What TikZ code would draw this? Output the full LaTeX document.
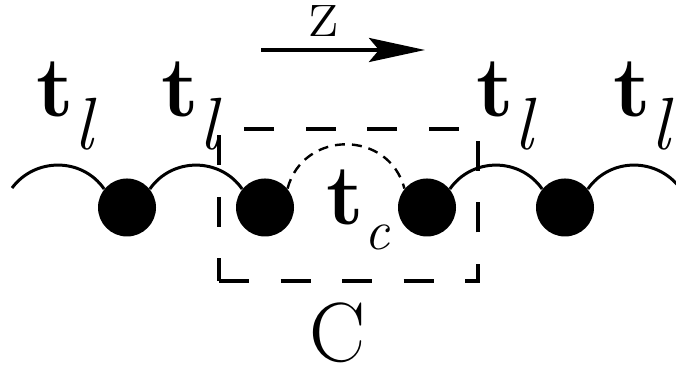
\documentclass[tikz,border=0pt]{standalone}
\usepackage{fontspec}
\usetikzlibrary{arrows.meta}
\newcommand\tlab{{\fontsize{43}{43}\selectfont\bfseries t}\raisebox{-16.5pt}{\fontsize{37}{37}\selectfont\itshape l}}
\newcommand\tclab{{\fontsize{43}{43}\selectfont\bfseries t}\raisebox{-12.5pt}{\fontsize{28}{28}\selectfont\itshape c}}

\begin{document}
\begin{tikzpicture}[x=0.5pt,y=0.5pt,bead/.style={circle,fill=black,inner sep=0pt,minimum size=29pt},chain/.style={line width=1.5pt},dchain/.style={line width=1.2pt,dash pattern=on 5pt off 3.5pt},cellbox/.style={line width=1.6pt,dash pattern=on 15pt off 15.75pt,line join=miter},lab/.style={anchor=base west,inner sep=0pt},zarrow/.style={-{Stealth[length=28pt,width=12pt,inset=5pt]},line width=2pt}]
\useasboundingbox (0,0) rectangle (676,367);

\draw[cellbox] (219,86) -- (478,86) -- (478,238) -- (219,238) -- cycle;

\node[bead] (b1) at (127,159.5) {};
\node[bead] (b2) at (265,159.5) {};
\node[bead] (b3) at (427,159.5) {};
\node[bead] (b4) at (565,159.5) {};
\coordinate (l0) at (12,179);
\coordinate (r0) at (680,179);

\draw[chain] (l0) to[out=53,in=125,looseness=1.07] (b1.141);
\draw[chain] (b1.39) to[out=55,in=125,looseness=1.08] (b2.141);
\draw[dchain] (b2.40) to[out=75,in=105,looseness=1.34] (b3.140);
\draw[chain] (b3.39) to[out=55,in=125,looseness=1.08] (b4.141);
\draw[chain] (b4.39) to[out=55,in=127,looseness=1.07] (r0);

\node[lab] (tl1) at (36,250) {\tlab};
\node[lab] (tl2) at (161,250) {\tlab};
\node[lab] (tl3) at (476,250) {\tlab};
\node[lab] (tl4) at (613,250) {\tlab};
\node[lab] (tc) at (326,142) {\tclab};

\coordinate (za) at (261,317);
\coordinate (zb) at (425,317);
\draw[zarrow] (za) -- (zb);
\node[anchor=base,inner sep=0pt,font=\fontsize{36}{36}\selectfont] (zlab) at (324,330) {z};
\node[anchor=base,inner sep=0pt,font=\fontsize{42}{42}\selectfont] (clab) at (338,5) {C};

\end{tikzpicture}
\end{document}
